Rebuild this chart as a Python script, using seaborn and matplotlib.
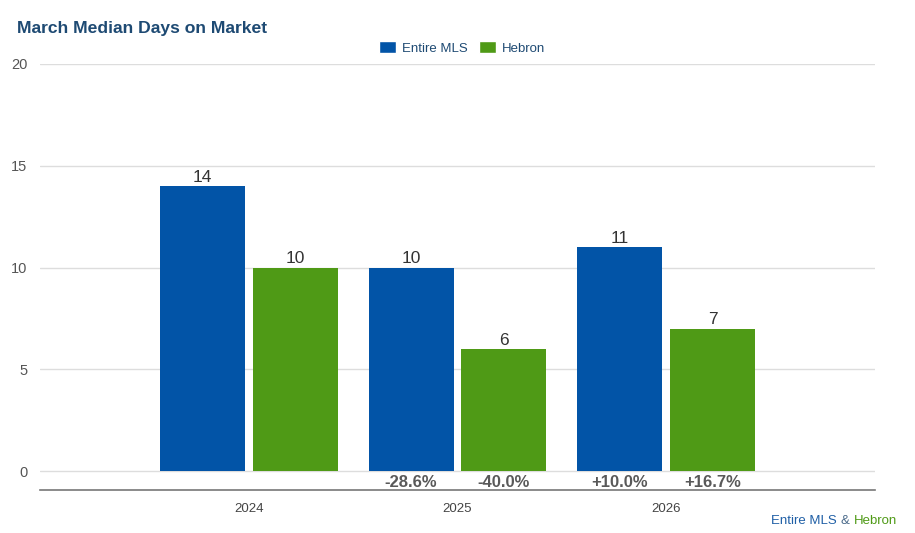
import matplotlib
matplotlib.use("Agg")
import matplotlib.pyplot as plt
import seaborn as sns
import pandas as pd

years = ["2024", "2025", "2026"]
series = ["Entire MLS", "Hebron"]
entire_mls = [14, 10, 11]
hebron = [10, 6, 7]
entire_change = [None, "-28.6%", "+10.0%"]
hebron_change = [None, "-40.0%", "+16.7%"]
yticks = [0, 5, 10, 15, 20]

BLUE = "#0254A7"
GREEN = "#4F9A16"
NAVY = "#1E4A73"

sns.set_theme(style="white")
plt.rcParams['font.family'] = ['Liberation Sans', 'DejaVu Sans']

df = pd.DataFrame({
    "Year": years * 2,
    "Series": [series[0]] * 3 + [series[1]] * 3,
    "Value": entire_mls + hebron,
})

fig = plt.figure(figsize=(9.15, 5.33), dpi=100)
ax = fig.add_axes([40 / 915, 1 - 490 / 533, 835 / 915, 426 / 533])

sns.barplot(data=df, x="Year", y="Value", hue="Series", order=years,
            hue_order=series, palette=[BLUE, GREEN], width=0.891, gap=0.086,
            saturation=1, ax=ax, legend=False, edgecolor="none")

ax.set_xlim(-1, 3)
ax.set_ylim(-0.93, 20)
ax.set_yticks(yticks)
ax.set_yticklabels([str(t) for t in yticks], fontsize=10.5, color="#555555")
ax.tick_params(axis="y", length=0, pad=9)
ax.tick_params(axis="x", length=0, pad=9, labelsize=9.5, labelcolor="#444444")
ax.set_xlabel("")
ax.set_ylabel("")
for t in yticks:
    ax.axhline(t, color="#DDDDDD", lw=1, zorder=0)
for s in ["top", "right", "left"]:
    ax.spines[s].set_visible(False)
ax.spines["bottom"].set_color("#777777")
ax.spines["bottom"].set_linewidth(1.2)

for cont in ax.containers:
    ax.bar_label(cont, fmt="%g", padding=1, fontsize=12.5, color="#333333")

changes = [entire_change, hebron_change]
for cont, ch in zip(ax.containers, changes):
    for bar, lab in zip(cont, ch):
        if lab:
            cx = bar.get_x() + bar.get_width() / 2
            ax.text(cx, -0.55, lab, ha="center", va="center", fontsize=12,
                    fontweight="bold", color="#595959")

fig.text(17 / 915, 1 - 29 / 533, "March Median Days on Market", fontsize=12.6,
         fontweight="bold", color=NAVY, ha="left", va="center")

# legend
from matplotlib.patches import Patch
handles = [Patch(facecolor=BLUE, label=series[0]), Patch(facecolor=GREEN, label=series[1])]
fig.legend(handles=handles, loc="center", bbox_to_anchor=(462 / 915, 1 - 48 / 533), ncol=2,
           frameon=False, fontsize=9.5, handlelength=1.3, handleheight=1.0,
           handletextpad=0.4, columnspacing=0.9, labelcolor=NAVY)

# footer
fy = 1 - 521 / 533
fig.canvas.draw()
r = fig.canvas.get_renderer()
t3 = fig.text(897 / 915, fy, "Hebron", color=GREEN, fontsize=9.5, ha="right", va="center")
bb = t3.get_window_extent(r)
t2 = fig.text((bb.x0 - 4) / 915, fy, "&", color="#4A6A8A", fontsize=9.5, ha="right", va="center")
bb2 = t2.get_window_extent(r)
fig.text((bb2.x0 - 4) / 915, fy, "Entire MLS", color="#1F5FA6", fontsize=9.5, ha="right", va="center")

fig.savefig("out.png", dpi=100)
